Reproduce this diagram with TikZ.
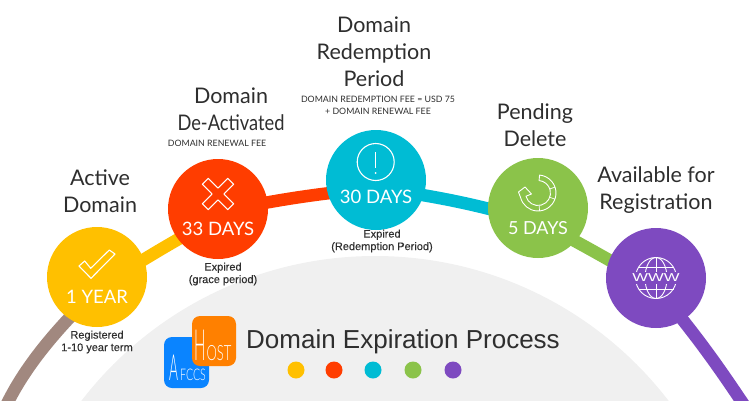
\documentclass[tikz,border=0pt]{standalone}
\usepackage{fontspec}
\setmainfont{Lato}
\newfontfamily\arialf{Liberation Sans}
\newfontfamily\smallf[FakeBold=0.25]{Liberation Sans}
\newfontfamily\latolight{Lato Light}
\usetikzlibrary{backgrounds}
\definecolor{cyel}{HTML}{FFC000}
\definecolor{cred}{HTML}{FF3D00}
\definecolor{cblu}{HTML}{00BCD4}
\definecolor{cgrn}{HTML}{8BC34A}
\definecolor{cpur}{HTML}{7E4AC0}
\definecolor{cbrn}{HTML}{A1887F}
\definecolor{cgry}{HTML}{F0F0F0}
\definecolor{ctxt}{HTML}{2E2E2E}
\definecolor{lblue}{HTML}{0A84FF}
\definecolor{lorng}{HTML}{FF8000}
\tikzset{
  stage/.style={circle,draw=none,minimum size=100pt,inner sep=0pt},
  dotm/.style={circle,draw=none,minimum size=17pt,inner sep=0pt},
  arcline/.style={line width=12.5pt},
  head/.style={inner sep=0pt,align=center,text=ctxt,font=\fontsize{21.5}{27}\selectfont},
  days/.style={inner sep=0pt,text=white,font=\fontsize{18.5}{22}\selectfont},
  small/.style={inner sep=0pt,align=center,text=ctxt,font=\smallf\fontsize{11}{12.5}\selectfont},
  caps/.style={inner sep=0pt,align=center,text=ctxt,font=\fontsize{8.8}{12}\selectfont},
  icon/.style={draw=white,line width=1.1pt,line join=round},
  logoletter/.style={inner sep=0pt,text=white,font=\latolight},
}
\begin{document}
\begin{tikzpicture}[x=1pt,y=-1pt]
\useasboundingbox (0,0) rectangle (750,400);
\clip (0,0) rectangle (750,400);
% stages
\node[stage,fill=cyel] (yr) at (97,277) {};
\node[stage,fill=cred] (gr) at (218,209) {};
\node[stage,fill=cblu] (rd) at (376,180) {};
\node[stage,fill=cgrn] (pd) at (538,208) {};
\node[stage,fill=cpur] (av) at (656,278) {};
\coordinate (startc) at (5,408);
\coordinate (endc) at (746,408);
\begin{pgfonlayer}{background}
  \fill[cgry] (375,626) circle[radius=370];
  \draw[arcline,cbrn] (startc) .. controls (22,372) and (50,335) .. ([yshift=-13pt]yr.center);
  \draw[arcline,cyel] ([yshift=-12pt]yr.center) to[bend left=2] ([yshift=-8pt]gr.center);
  \draw[arcline,cred] ([yshift=-3pt]gr.center) to[bend left=3] ([yshift=-8pt]rd.center);
  \draw[arcline,cblu] ([yshift=-8pt]rd.center) to[bend left=4] ([yshift=-14pt]pd.center);
  \draw[arcline,cgrn] ([yshift=-13pt]pd.center) to[bend left=1] ([yshift=-9pt]av.center);
  \draw[arcline,cpur] ([yshift=-9pt]av.center) to[bend left=3] (endc);
\end{pgfonlayer}
% headings
\node[head] (h1) at (100,191) {Active\\Domain};
\node[head] (h2) at (231,109) {Domain\\\scalebox{.85}[1]{De-Activated}};
\node[head] (h3) at (374,52) {Domain\\Redemption\\Period};
\node[head] (h4) at (535,125) {Pending\\Delete};
\node[head] (h5) at (656,190) {Available for\\Registration};
\node[caps] (c2) at (217,143) {DOMAIN RENEWAL FEE};
\node[caps] (c3) at (378,105) {DOMAIN REDEMPTION FEE = USD 75\\+ DOMAIN RENEWAL FEE};
% day labels
\node[days] (d1) at (97,297) {1 YEAR};
\node[days] (d2) at (218,229) {33 DAYS};
\node[days] (d3) at (376,196.5) {30 DAYS};
\node[days,font=\fontsize{18}{22}\selectfont] (d4) at (538,228) {5 DAYS};
% small labels
\node[small] (s1) at (97,342) {Registered\\1-10 year term};
\node[small] (s2) at (223,274) {Expired\\(grace period)};
\node[small] (s3) at (382,241) {Expired\\(Redemption Period)};
% icons
\draw[icon] (79,266)--(91,278.3)--(115,254)--(109.3,250)--(90.7,268.3)--(84.7,261)--cycle;
\begin{scope}[shift={(218,194)},rotate=45]
\draw[icon] (-4.2,-4.2)--(-4.2,-18)--(4.2,-18)--(4.2,-4.2)--(18,-4.2)--(18,4.2)--(4.2,4.2)--(4.2,18)--(-4.2,18)--(-4.2,4.2)--(-18,4.2)--(-18,-4.2)--cycle;
\end{scope}
\draw[icon] (375.7,162) circle[radius=18.5];
\draw[icon] (375.7,152)--(375.7,168);
\fill[white] (375.7,173) circle[radius=1];
\begin{scope}[shift={(538,193)}]
\draw[icon,line width=.9pt]
  (-85:18) arc[start angle=-85,end angle=165,radius=18]
  -- (-19.5,-1) -- (-13,-6) -- (-6.5,1) -- (165:12.5)
  arc[start angle=165,end angle=-85,radius=12.5] -- cycle;
\draw[icon,line width=.7pt] (-19:12.5)--(-19:18) (20:12.5)--(20:18) (85:12.5)--(85:18);
\end{scope}
\begin{scope}[shift={(656,278)}]
\draw[icon,line width=.9pt] (0,0) circle[radius=20.5];
\draw[icon,line width=.9pt] (0,-20.5)--(0,20.5) (-17.5,-11)--(17.5,-11) (-17.5,11)--(17.5,11);
\draw[icon,line width=.9pt] (0,-20.5) arc[start angle=-90,end angle=90,x radius=11,y radius=20.5];
\draw[icon,line width=.9pt] (0,-20.5) arc[start angle=270,end angle=90,x radius=11,y radius=20.5];
\fill[cpur] (-25,-6) rectangle (25,6);
\end{scope}
\node[inner sep=0pt,text=white,font=\arialf\fontsize{11.5}{14}\selectfont] (www) at (656,278) {\scalebox{1.45}[1]{WWW}};
% logo
\node[inner sep=0pt,fill=lblue,rounded corners=8pt,minimum width=45pt,minimum height=51pt] (lb) at (186.5,362.5) {};
\node[inner sep=0pt,fill=lorng,rounded corners=8pt,minimum width=44pt,minimum height=50pt] (lo) at (214,341) {};
\node[logoletter,anchor=base west] (la) at (169,380) {\scalebox{.38}[1]{\fontsize{36}{36}\selectfont A}\kern2pt\scalebox{.66}[1]{\fontsize{16}{16}\selectfont FCCS}};
\node[logoletter,anchor=base west] (lh) at (194,360) {\scalebox{.35}[1]{\fontsize{43}{43}\selectfont H}\kern1pt\scalebox{.62}[1]{\fontsize{21}{21}\selectfont OST}};
% title
\node[inner sep=0pt,anchor=base west,text=ctxt,font=\arialf\fontsize{26}{30}\selectfont] (title) at (246,348) {Domain Expiration Process};
\node[dotm,fill=cyel] (m1) at (296,370) {};
\node[dotm,fill=cred] (m2) at (334,370) {};
\node[dotm,fill=cblu] (m3) at (373,370) {};
\node[dotm,fill=cgrn] (m4) at (413,370) {};
\node[dotm,fill=cpur] (m5) at (453,370) {};
\end{tikzpicture}
\end{document}
